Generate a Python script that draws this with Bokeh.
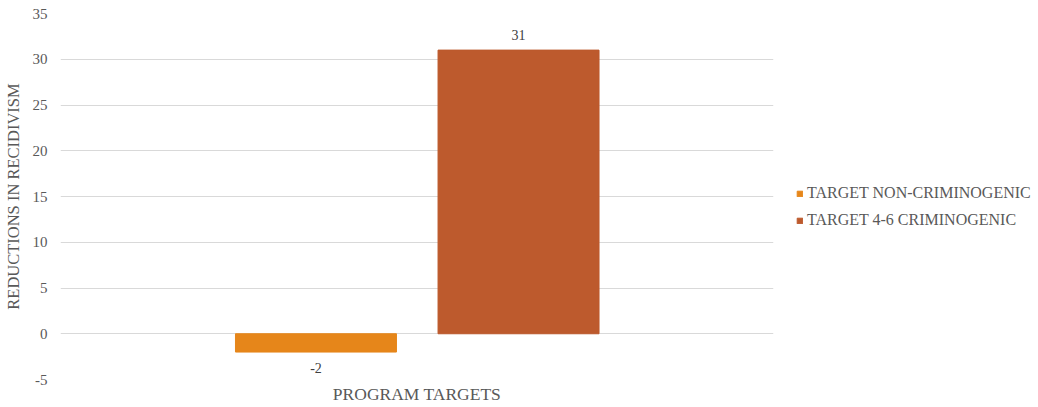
from bokeh.plotting import figure
from bokeh.models import ColumnDataSource, Range1d, Legend, LegendItem, FactorRange, PrintfTickFormatter
from bokeh.transform import dodge
from bokeh.core.properties import value
from bokeh.embed import file_html
from bokeh.resources import INLINE

categories = ["PROGRAM TARGETS"]
series_names = ["TARGET NON-CRIMINOGENIC", "TARGET 4-6 CRIMINOGENIC"]
non_crim = [-2]
crim_4_6 = [31]
colors = ["#E6861A", "#BD5A2D"]

FONT = "Liberation Serif"

src = ColumnDataSource(dict(cat=categories, a=non_crim, b=crim_4_6,
                            a_lbl=[str(v) for v in non_crim],
                            b_lbl=[str(v) for v in crim_4_6]))

p = figure(width=1038, height=407, x_range=FactorRange(*categories, range_padding=0),
           y_range=Range1d(-5, 35), output_backend="svg", toolbar_location=None,
           min_border_left=60, min_border_right=265, min_border_top=13, min_border_bottom=28)
p.frame_width = 713
p.frame_height = 366
p.outline_line_color = None
p.background_fill_color = None
p.border_fill_color = "white"

w = 0.2258
r1 = p.vbar(x=dodge("cat", -0.1417, range=p.x_range), top="a", bottom=0, width=w,
            color=colors[0], source=src)
r2 = p.vbar(x=dodge("cat", 0.1424, range=p.x_range), top="b", bottom=0, width=w,
            color=colors[1], source=src)

p.text(x=dodge("cat", -0.1417, range=p.x_range), y="a", text="a_lbl", source=src,
       text_font=value(FONT), text_font_size="14px", text_color="#404040",
       text_align="center", text_baseline="top", y_offset=11)
p.text(x=dodge("cat", 0.1424, range=p.x_range), y="b", text="b_lbl", source=src,
       text_font=value(FONT), text_font_size="14px", text_color="#404040",
       text_align="center", text_baseline="bottom", y_offset=-10)

p.xgrid.grid_line_color = None
p.ygrid.grid_line_color = "#D9D9D9"
p.ygrid.ticker = list(range(-5, 36, 5))
p.yaxis.ticker = list(range(-5, 36, 5))
p.yaxis.formatter = PrintfTickFormatter(format="%d")

for ax in (p.xaxis[0], p.yaxis[0]):
    ax.axis_line_color = None
    ax.major_tick_line_color = None
    ax.minor_tick_line_color = None
    ax.major_tick_out = 0
    ax.major_tick_in = 0
    ax.minor_tick_out = 0
    ax.major_label_text_font = FONT
    ax.major_label_text_font_size = "15px"
    ax.major_label_text_color = "#595959"
    ax.axis_label_text_font = FONT
    ax.axis_label_text_font_size = "16.5px"
    ax.axis_label_text_color = "#595959"
    ax.axis_label_text_font_style = "normal"

p.xaxis.major_label_text_font_size = "17.5px"
p.xaxis.major_label_standoff = 4
p.yaxis.axis_label = "REDUCTIONS IN RECIDIVISM"
p.yaxis.major_label_standoff = 13
p.yaxis.axis_label_standoff = 7

legend = Legend(items=[LegendItem(label=series_names[0], renderers=[r1]),
                       LegendItem(label=series_names[1], renderers=[r2])],
                location=(23, 150), orientation="vertical")
legend.label_text_font = FONT
legend.label_text_font_size = "16px"
legend.label_text_color = "#595959"
legend.glyph_width = 7
legend.glyph_height = 7
legend.label_height = 16
legend.spacing = 9
legend.padding = 0
legend.margin = 0
legend.border_line_color = None
legend.background_fill_alpha = 0
legend.label_standoff = 4
p.add_layout(legend, "right")

open("out.html", "w").write(file_html(p, INLINE))
